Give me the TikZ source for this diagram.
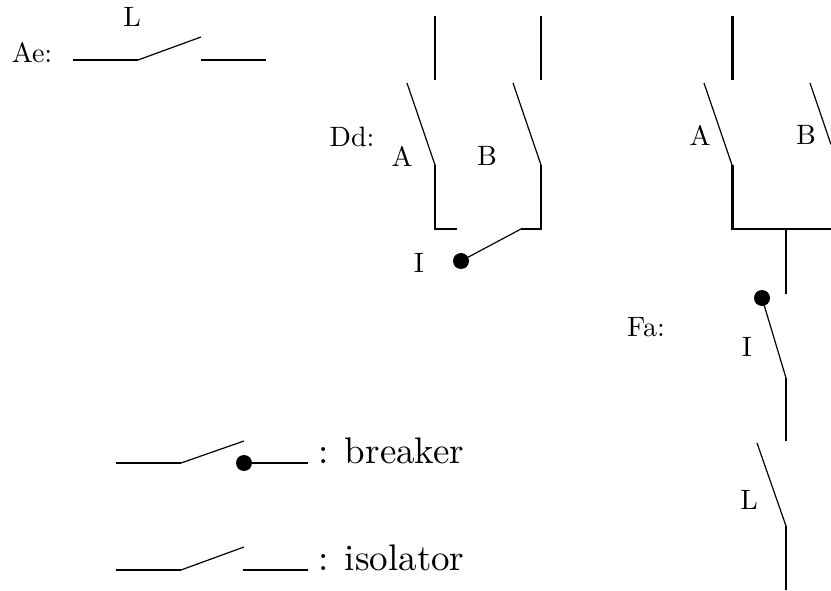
\documentclass[tikz,border=0pt]{standalone}
\begin{document}
\begin{tikzpicture}[x=1pt,y=-1pt,
  wire/.style={line width=2.3pt},
  heavy/.style={line width=3pt},
  blade/.style={line width=1.2pt},
  pivot/.style={circle,fill=black,inner sep=0pt,minimum size=16pt},
  lab/.style={inner sep=0pt,scale=2.8},
  biglab/.style={inner sep=0pt,scale=3.7,anchor=base west}]
\useasboundingbox (0,0) rectangle (831,591);
% Ae
\coordinate (a1) at (73,60);\coordinate (a2) at (138,60);\coordinate (a3) at (201,37);\coordinate (a4) at (201,60);\coordinate (a5) at (266,60);
\draw[wire] (a1)--(a2);\draw[blade] (a2)--(a3);\draw[wire] (a4)--(a5);
\node[lab] (tL) at (132,17) {L};
\node[lab] (tAe) at (32,53) {Ae:};
% Dd
\coordinate (d1) at (435,16);\coordinate (d2) at (435,80);\coordinate (d3) at (407,83);\coordinate (d4) at (435,165);\coordinate (d5) at (435,229);\coordinate (d6) at (457,229);
\coordinate (e1) at (541,16);\coordinate (e2) at (541,80);\coordinate (e3) at (513,83);\coordinate (e4) at (541,165);\coordinate (e5) at (541,229);\coordinate (e6) at (521,229);
\node[pivot] (dI) at (461,261) {};
\draw[wire] (d1)--(d2);\draw[blade] (d3)--(d4);\draw[wire,line join=miter] (d4)--(d5)--(d6);
\draw[wire] (e1)--(e2);\draw[blade] (e3)--(e4);\draw[wire] (e4)--(e5)--(e6);
\draw[blade] (e6)--(dI.center);
\node[lab] (tDd) at (352,137) {Dd:};
\node[lab] (tA1) at (402,156) {A};
\node[lab] (tB1) at (487,156) {B};
\node[lab] (tI1) at (419,263) {I};
% Fa
\coordinate (f1) at (732,16);\coordinate (f2) at (732,80);\coordinate (f3) at (704,83);\coordinate (f4) at (732,165);\coordinate (f5) at (732,229);\coordinate (f6) at (831,229);
\coordinate (g3) at (810,83);\coordinate (g4) at (831,144.5);
\coordinate (h1) at (786,229);\coordinate (h2) at (786,294);
\node[pivot] (fI) at (762,298) {};
\coordinate (h3) at (786,378);\coordinate (h4) at (786,441);\coordinate (h5) at (757,443);\coordinate (h6) at (786,526);\coordinate (h7) at (786,590);
\draw[heavy] (f1)--(f2);\draw[blade] (f3)--(f4);\draw[heavy] (f4)--(f5);
\draw[wire] (730.5,229)--(f6);
\draw[blade] (g3)--(g4);
\draw[wire] (h1)--(h2);
\draw[blade] (fI.center)--(h3);\draw[wire] (h3)--(h4);
\draw[blade] (h5)--(h6);\draw[wire] (h6)--(h7);
\node[lab] (tA2) at (700,135) {A};
\node[lab] (tB2) at (806,135) {B};
\node[lab] (tFa) at (646,327) {Fa:};
\node[lab] (tI2) at (747,347) {I};
\node[lab] (tL2) at (749,500) {L};
% legend
\coordinate (b1) at (116,463);\coordinate (b2) at (181,463);\coordinate (b3) at (244,441);\coordinate (b5) at (308,463);
\node[pivot] (bd) at (244,463) {};
\draw[wire] (b1)--(b2);\draw[blade] (b2)--(b3);\draw[wire] (bd.center)--(b5);
\coordinate (c1) at (116,570);\coordinate (c2) at (181,570);\coordinate (c3) at (244,547);\coordinate (c4) at (243,570);\coordinate (c5) at (308,570);
\draw[wire] (c1)--(c2);\draw[blade] (c2)--(c3);\draw[wire] (c4)--(c5);
\node[biglab] (tb) at (318,463) {:\hspace{4.3pt}breaker};
\node[biglab] (ti) at (318,570) {:\hspace{4.3pt}isolator};
\end{tikzpicture}
\end{document}
